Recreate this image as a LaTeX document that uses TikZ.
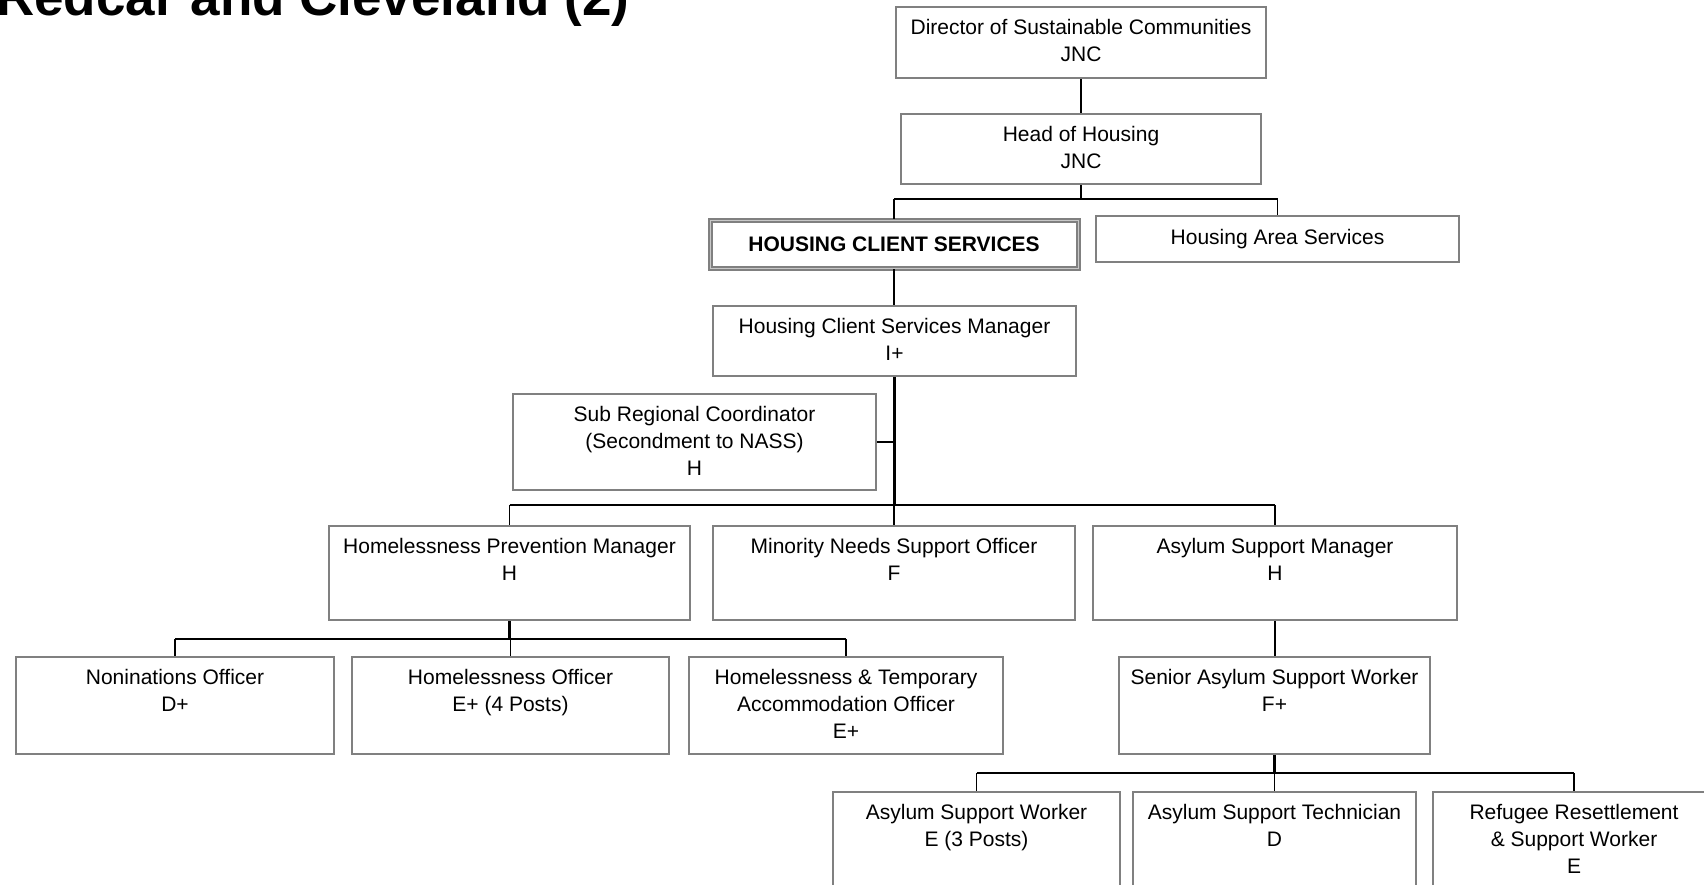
\documentclass[tikz,border=0pt]{standalone}
\usepackage{fontspec}
\setmainfont{Liberation Sans}
\definecolor{boxgrey}{HTML}{808080}
\definecolor{boxlight}{HTML}{C8C8C8}

% name, left x, top y, width, height, text (top aligned)
\newcommand{\postbox}[6]{%
  \node[box, anchor=north west, minimum width=#4pt, minimum height=#5pt] (#1) at (#2,#3) {};
  \node[txt] (#1-t) at ([yshift=-13pt]#1.north) {#6};
}

\begin{document}
\begin{tikzpicture}[x=1pt, y=-1pt,
  box/.style={draw=boxgrey, line width=2pt, fill=white, inner sep=0pt},
  txt/.style={font=\fontsize{21}{27}\selectfont, align=center, inner sep=0pt, anchor=north},
  bus/.style={line width=2.2pt},
  drop/.style={line width=1.3pt},
]
\useasboundingbox (0,0) rectangle (1704,884);
\clip (0,0) rectangle (1704,884);
\fill[white] (0,0) rectangle (1704,884);

% title
\node[anchor=base west, inner sep=0pt, font=\bfseries\fontsize{53}{60}\selectfont] (title) at (-4,15) {Redcar and Cleveland (2)};

% top of the structure
\postbox{dir}{895}{6}{370}{71}{Director of Sustainable Communities\\JNC}
\postbox{head}{900}{113}{360}{70}{Head of Housing\\JNC}

\node[draw=boxgrey, line width=2pt, double=boxlight, double distance=1pt,
      anchor=north west, minimum width=368pt, minimum height=48pt, inner sep=0pt,
      font=\bfseries\fontsize{21}{27}\selectfont] (hcs) at (709,219) {HOUSING CLIENT SERVICES};
\node[box, anchor=north west, minimum width=363pt, minimum height=46pt,
      font=\fontsize{21}{27}\selectfont] (has) at (1095,215) {Housing Area Services};

\postbox{hcsm}{712}{305}{363}{70}{Housing Client Services Manager\\I+}
\postbox{src}{512}{393}{363}{96}{Sub Regional Coordinator\\(Secondment to NASS)\\H}

% third tier
\postbox{hpm}{328}{525}{361}{94}{Homelessness Prevention Manager\\H}
\postbox{mnso}{712}{525}{362}{94}{Minority Needs Support Officer\\F}
\postbox{asm}{1092}{525}{364}{94}{Asylum Support Manager\\H}

% homelessness team
\postbox{no}{15}{656}{318}{97}{Noninations Officer\\D+}
\postbox{ho}{351}{656}{317}{97}{Homelessness Officer\\E+ (4 Posts)}
\postbox{htao}{688}{656}{314}{97}{Homelessness \& Temporary\\Accommodation Officer\\E+}

% asylum team
\postbox{sasw}{1118}{656}{311}{97}{Senior Asylum Support Worker\\F+}
\postbox{asw}{832}{791}{287}{110}{Asylum Support Worker\\E (3 Posts)}
\postbox{ast}{1132}{791}{283}{110}{Asylum Support Technician\\D}
\postbox{rrsw}{1432}{791}{282}{110}{Refugee Resettlement\\\& Support Worker\\E}

% connectors
\coordinate (b1) at (0,199);
\coordinate (b2) at (0,505);
\coordinate (b3) at (0,639);
\coordinate (b4) at (0,773);

\draw[drop] (dir.south) -- (head.north);
\draw[bus] (head.south) -- (head.south |- b1);
\draw[bus] (hcs.north |- b1) -- (has.north |- b1);
\draw[drop] (hcs.north |- b1) -- (hcs.north);
\draw[drop] (has.north |- b1) -- (has.north);

\draw[bus] (hcs.south) -- (hcs.south |- hcsm.north);
\draw[bus] (hcsm.south) -- (hcsm.south |- b2);
\draw[bus] (src.east) -- (hcsm.south |- src.east);

\draw[bus] (hpm.north |- b2) -- (asm.north |- b2);
\draw[drop] (hpm.north |- b2) -- (hpm.north);
\draw[drop] (mnso.north |- b2) -- (mnso.north);
\draw[drop] (asm.north |- b2) -- (asm.north);

\draw[bus] (hpm.south) -- (hpm.south |- b3);
\draw[bus] (no.north |- b3) -- (htao.north |- b3);
\draw[drop] (no.north |- b3) -- (no.north);
\draw[drop] (ho.north |- b3) -- (ho.north);
\draw[drop] (htao.north |- b3) -- (htao.north);

\draw[drop] (asm.south) -- (asm.south |- sasw.north);
\draw[bus] (sasw.south) -- (sasw.south |- b4);
\draw[bus] (asw.north |- b4) -- (rrsw.north |- b4);
\draw[drop] (asw.north |- b4) -- (asw.north);
\draw[drop] (ast.north |- b4) -- (ast.north);
\draw[drop] (rrsw.north |- b4) -- (rrsw.north);
\end{tikzpicture}
\end{document}
